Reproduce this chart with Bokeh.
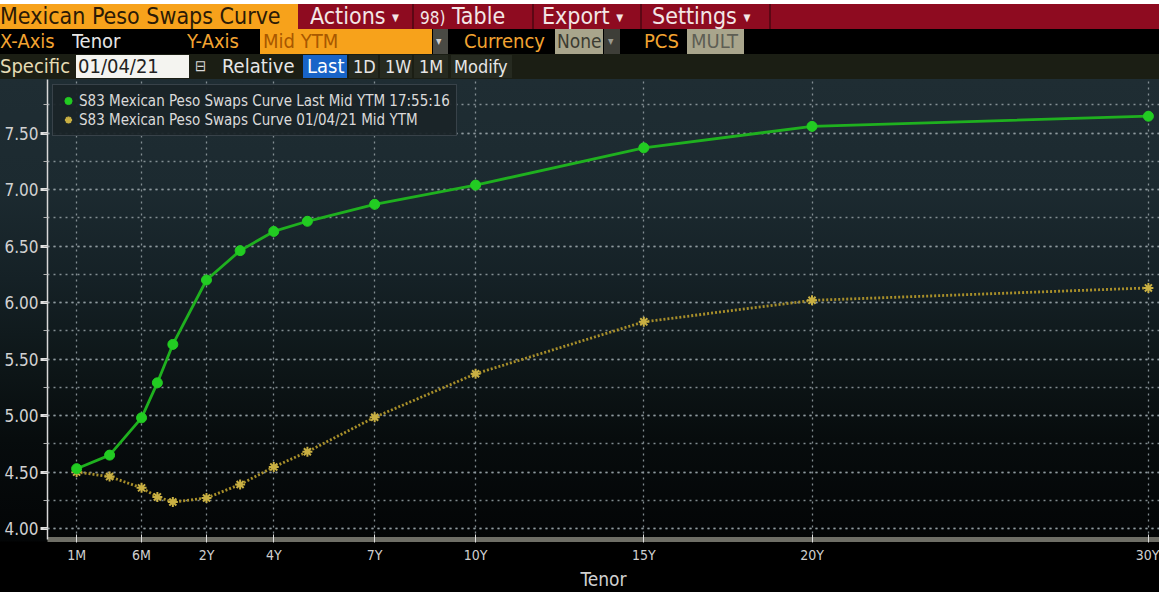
from bokeh.plotting import figure
from bokeh.models import (Div, Legend, LegendItem, FixedTicker, SingleIntervalTicker,
                          NumeralTickFormatter, Range1d, ColumnDataSource)
from bokeh.layouts import column
from bokeh.embed import file_html
from bokeh.resources import INLINE

# ---------------- data ----------------
tenors = ["1M", "3M", "6M", "9M", "1Y", "2Y", "3Y", "4Y", "5Y", "7Y", "10Y", "15Y", "20Y", "30Y"]
# position of each tenor on the Bloomberg tenor axis (years for >=1Y, compressed short end)
tenor_axis_pos = [-1.86, -0.88, 0.07, 0.54, 1.0, 2, 3, 4, 5, 7, 10, 15, 20, 30]
last_mid_ytm = [4.53, 4.65, 4.98, 5.29, 5.63, 6.20, 6.46, 6.63, 6.72, 6.87, 7.04, 7.37, 7.56, 7.65]
prev_mid_ytm = [4.50, 4.46, 4.36, 4.28, 4.235, 4.27, 4.39, 4.545, 4.68, 4.985, 5.37, 5.83, 6.02, 6.13]
tick_tenors = ["1M", "6M", "2Y", "4Y", "7Y", "10Y", "15Y", "20Y", "30Y"]
series_labels = ["S83 Mexican Peso Swaps Curve Last Mid YTM 17:55:16",
                 "S83 Mexican Peso Swaps Curve 01/04/21 Mid YTM"]

FONT = "DejaVu Sans Condensed, Liberation Sans Narrow, DejaVu Sans, sans-serif"
CSSFONT = "'DejaVu Sans Condensed','Liberation Sans Narrow','DejaVu Sans',sans-serif"

# ---------------- header (Bloomberg-style toolbar) ----------------
def box(left, top, width, height, bg="transparent", text="", color="#ffffff", size=19, pad=0, extra=""):
    return (f'<div style="position:absolute;left:{left}px;top:{top}px;width:{width}px;height:{height}px;'
            f'background:{bg};color:{color};font-size:{size}px;line-height:{height}px;padding-left:{pad}px;'
            f'box-sizing:border-box;white-space:nowrap;overflow:hidden;{extra}">{text}</div>')

ORANGE = "#f7a21b"
OTXT = "#f3a431"
TRI = "<span style='font-size:10px;vertical-align:middle'>&#9660;</span>"
parts = []
# row 1
parts.append(box(0, 4, 1159, 25, "#8e0b20"))
parts.append(box(0, 4, 298, 25, ORANGE, "Mexican Peso Swaps Curve", "#2b1a06", 23, 0))
for x, t in [(310, "Actions " + TRI),
             (420, "<span style='font-size:17px'>98)</span> Table"),
             (542, "Export " + TRI),
             (652, "Settings " + TRI)]:
    parts.append(box(x, 4, 112, 25, "transparent", t, "#f3e6e6", 23))
for x in [412, 532, 640, 769]:
    parts.append(box(x, 4, 2, 25, "#5c0714"))
# row 2
parts.append(box(0, 29, 1159, 25, "#000000"))
parts.append(box(0, 29, 70, 25, "transparent", "X-Axis", OTXT, 20))
parts.append(box(72, 29, 70, 25, "transparent", "Tenor", "#e6e6e6", 20))
parts.append(box(187, 29, 70, 25, "transparent", "Y-Axis", OTXT, 20))
parts.append(box(260, 29, 172, 25, ORANGE, "Mid YTM", "#a85800", 20, 3))
parts.append(box(433, 29, 15, 25, "#4a4a44", "&#9662;", "#cfcfcf", 12, 3))
parts.append(box(464, 29, 90, 25, "transparent", "Currency", OTXT, 20))
parts.append(box(555, 29, 48, 25, "#a9a58c", "None", "#3c3c32", 19, 2))
parts.append(box(604, 29, 16, 25, "#3e3e38", "&#9662;", "#9a9a90", 12, 4))
parts.append(box(644, 29, 40, 25, "transparent", "PCS", OTXT, 20))
parts.append(box(687, 29, 57, 25, "#a9a58c", "MULT", "#5e5e54", 20, 4))
# row 3
parts.append(box(0, 54, 1159, 25, "#1b1e14"))
parts.append(box(0, 54, 76, 25, "transparent", "Specific", "#e6dcb4", 20))
parts.append(box(76, 55, 113, 23, "#f4f4f0", "01/04/21", "#222222", 20, 2))
parts.append(box(193, 54, 20, 25, "transparent", "&#8863;", "#d8d8d8", 15, 2))
parts.append(box(222, 54, 80, 25, "transparent", "Relative", "#e6e6e6", 20))
parts.append(box(303, 55, 44, 23, "#1864c8", "Last", "#ffffff", 20, 4))
parts.append(box(349, 55, 29, 23, "#262a20", "1D", "#e6e6e6", 18, 4))
parts.append(box(380, 55, 32, 23, "#262a20", "1W", "#e6e6e6", 18, 5))
parts.append(box(414, 55, 34, 23, "#262a20", "1M", "#e6e6e6", 18, 5))
parts.append(box(451, 55, 61, 23, "#262a20", "Modify", "#e6e6e6", 18, 3))

header_html = (f'<div style="position:relative;width:1159px;height:79px;font-family:{CSSFONT};'
               f'font-stretch:condensed;background:#ffffff;">' + "".join(parts) + '</div>')
header = Div(text=header_html, width=1159, height=79, styles={"margin": "0", "padding": "0"})

# ---------------- chart ----------------
pos_of = dict(zip(tenors, tenor_axis_pos))
x_ticks = [pos_of[t] for t in tick_tenors]

src = ColumnDataSource(dict(x=tenor_axis_pos, last=last_mid_ytm, prev=prev_mid_ytm, tenor=tenors))

p = figure(width=1159, height=513, output_backend="svg", toolbar_location=None,
           x_range=Range1d(-2.726, 30.33), y_range=Range1d(3.903, 7.975),
           min_border_left=47, min_border_right=0, min_border_top=0, min_border_bottom=50)
p.background_fill_color = None
p.border_fill_color = None
p.outline_line_color = None
p.styles = {"background": "linear-gradient(to bottom, #1f2d33 0px, #1c2a30 110px, #152126 200px, "
                          "#0e1719 280px, #070c0d 360px, #030506 462px, #000000 463px, #000000 100%)"}

# grid
p.xgrid.ticker = FixedTicker(ticks=x_ticks)
yt = SingleIntervalTicker(interval=0.5, num_minor_ticks=2)
p.ygrid.ticker = yt
for g in (p.xgrid, p.ygrid):
    g.grid_line_color = "#8f9a9e"
    g.grid_line_dash = "2 4"
    g.grid_line_width = 1.3
    g.grid_line_alpha = 0.9
p.ygrid.minor_grid_line_color = "#8f9a9e"
p.ygrid.minor_grid_line_dash = "2 4"
p.ygrid.minor_grid_line_width = 1.3
p.ygrid.minor_grid_line_alpha = 0.9

# series
prev_line = p.line("x", "prev", source=src, line_color="#a88f2a", line_width=2.8, line_dash="2 2")
prev_pts = p.scatter("x", "prev", source=src, marker="asterisk", size=10, line_color="#c9b043", line_width=2)
last_line = p.line("x", "last", source=src, line_color="#1fb01f", line_width=2.8)
last_pts = p.scatter("x", "last", source=src, marker="circle", size=10, fill_color="#22cc22", line_color="#22cc22")

# axes
xa = p.xaxis[0]
xa.ticker = FixedTicker(ticks=x_ticks)
xa.major_label_overrides = {pos_of[t]: t for t in tick_tenors}
xa.axis_label = "Tenor"
xa.axis_label_text_font = FONT
xa.axis_label_text_font_style = "normal"
xa.axis_label_text_font_size = "19px"
xa.axis_label_text_color = "#d0d0d0"
xa.axis_label_standoff = 2
xa.major_label_text_font = FONT
xa.major_label_text_font_size = "14px"
xa.major_label_text_color = "#cfcfcf"
xa.major_label_standoff = 4
xa.axis_line_color = "#6e6e66"
xa.axis_line_width = 5
xa.major_tick_line_color = "#e0e0e0"
xa.major_tick_in = 5
xa.major_tick_out = 3
xa.minor_tick_line_color = None

ya = p.yaxis[0]
ya.ticker = yt
ya.formatter = NumeralTickFormatter(format="0.00")
ya.major_label_text_font = FONT
ya.major_label_text_font_size = "17px"
ya.major_label_text_color = "#d2d2d2"
ya.major_label_standoff = 2
ya.axis_line_color = "#d8d8d8"
ya.axis_line_width = 1.5
ya.major_tick_line_color = "#e0e0e0"
ya.major_tick_line_width = 3
ya.major_tick_out = 7
ya.major_tick_in = 0
ya.minor_tick_line_color = "#b0b0b0"
ya.minor_tick_out = 4
ya.minor_tick_in = 0

legend = Legend(items=[LegendItem(label=series_labels[0], renderers=[last_pts]),
                       LegendItem(label=series_labels[1], renderers=[prev_pts])],
                location="top_left", margin=5, padding=6, spacing=0,
                glyph_width=18, glyph_height=19, label_height=19, label_standoff=2,
                label_text_font=FONT, label_text_font_size="15px", label_text_color="#dadada",
                background_fill_color="#1a2428", background_fill_alpha=0.95,
                border_line_color="#56606a", border_line_width=1.5)
p.add_layout(legend)

layout = column(header, p, spacing=0)
with open("out.html", "w", encoding="utf-8") as f:
    f.write(file_html(layout, INLINE))
